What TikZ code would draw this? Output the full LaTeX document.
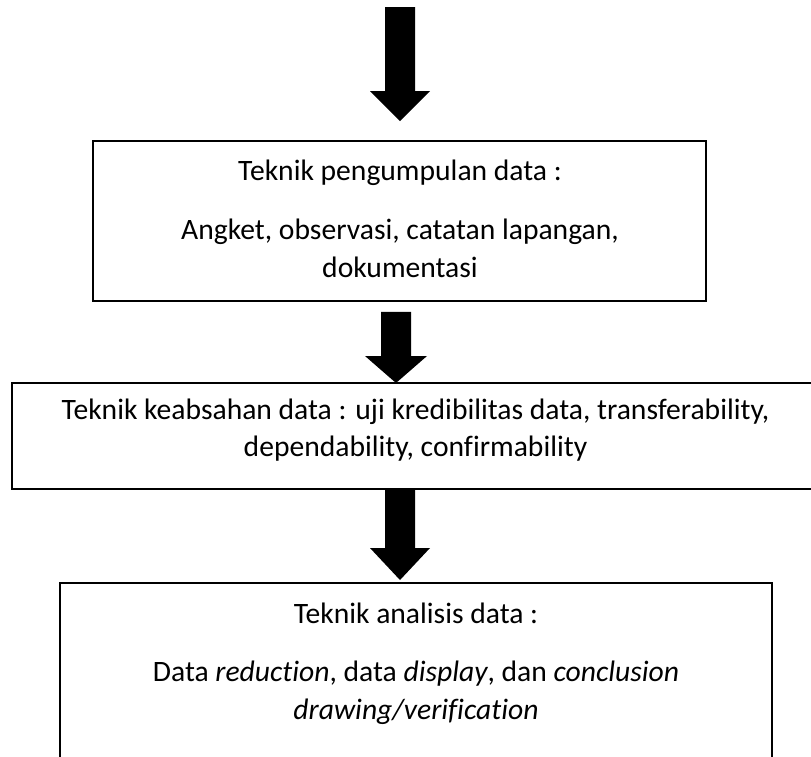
\documentclass[tikz,border=0pt]{standalone}
\usepackage{fontspec}
\setmainfont{Carlito}[Ligatures=NoCommon]
\usetikzlibrary{calc}
\begin{document}
\begin{tikzpicture}[x=1pt,y=-1pt,
  box/.style={draw=black,line width=1.6pt,fill=none,inner sep=0pt,minimum width=#1},
  txt/.style={anchor=base,inner sep=0pt,font=\fontsize{29.6}{38}\selectfont},
  blockarrow/.style={fill=black,draw=none}]
\useasboundingbox (0,0) rectangle (811,756);
\clip (0,0) rectangle (811,756);
% boxes
\node[box=613pt,minimum height=160pt] (b1) at (399.5,221) {};
\node[box=806pt,minimum height=106pt] (b2) at (415,436) {};
\node[box=712pt,minimum height=200pt] (b3) at (416,683) {};
% texts
\node[txt] (t11) at (400,180) {Teknik pengumpulan data :};
\node[txt] (t12) at (400,239) {Angket, observasi, catatan lapangan,};
\node[txt] (t13) at (400,277) {dokumentasi};
\node[txt] (t21) at (415.5,419) {Teknik keabsahan data : uji kredibilitas data, transferability,};
\node[txt] (t22) at (415.5,456) {dependability, confirmability};
\node[txt] (t31) at (416,623) {Teknik analisis data :};
\node[txt] (t32) at (416,681) {Data \textit{reduction}, data \textit{display}, dan \textit{conclusion}};
\node[txt] (t33) at (416,719) {\textit{drawing/verification}};
% arrows
\coordinate (a1top) at (400,7);
\coordinate (a1tip) at (400,121);
\fill[blockarrow] ($(a1top)+(-15,0)$) -- ($(a1top)+(15,0)$) -- ($(a1tip)+(15,-30)$)
  -- ($(a1tip)+(30,-30)$) -- (a1tip) -- ($(a1tip)+(-30,-30)$) -- ($(a1tip)+(-15,-30)$) -- cycle;
\coordinate (a2top) at ($(b1.south)+(-3.5,10)$);
\coordinate (a2tip) at (396,383);
\fill[blockarrow] ($(a2top)+(-15,0)$) -- ($(a2top)+(15,0)$) -- ($(a2tip)+(15,-27)$)
  -- ($(a2tip)+(31,-27)$) -- (a2tip) -- ($(a2tip)+(-31,-27)$) -- ($(a2tip)+(-15,-27)$) -- cycle;
\coordinate (a3top) at (400,489);
\coordinate (a3tip) at (400,580);
\fill[blockarrow] ($(a3top)+(-15,0)$) -- ($(a3top)+(15,0)$) -- ($(a3tip)+(15,-32)$)
  -- ($(a3tip)+(30,-32)$) -- (a3tip) -- ($(a3tip)+(-30,-32)$) -- ($(a3tip)+(-15,-32)$) -- cycle;
\end{tikzpicture}
\end{document}
